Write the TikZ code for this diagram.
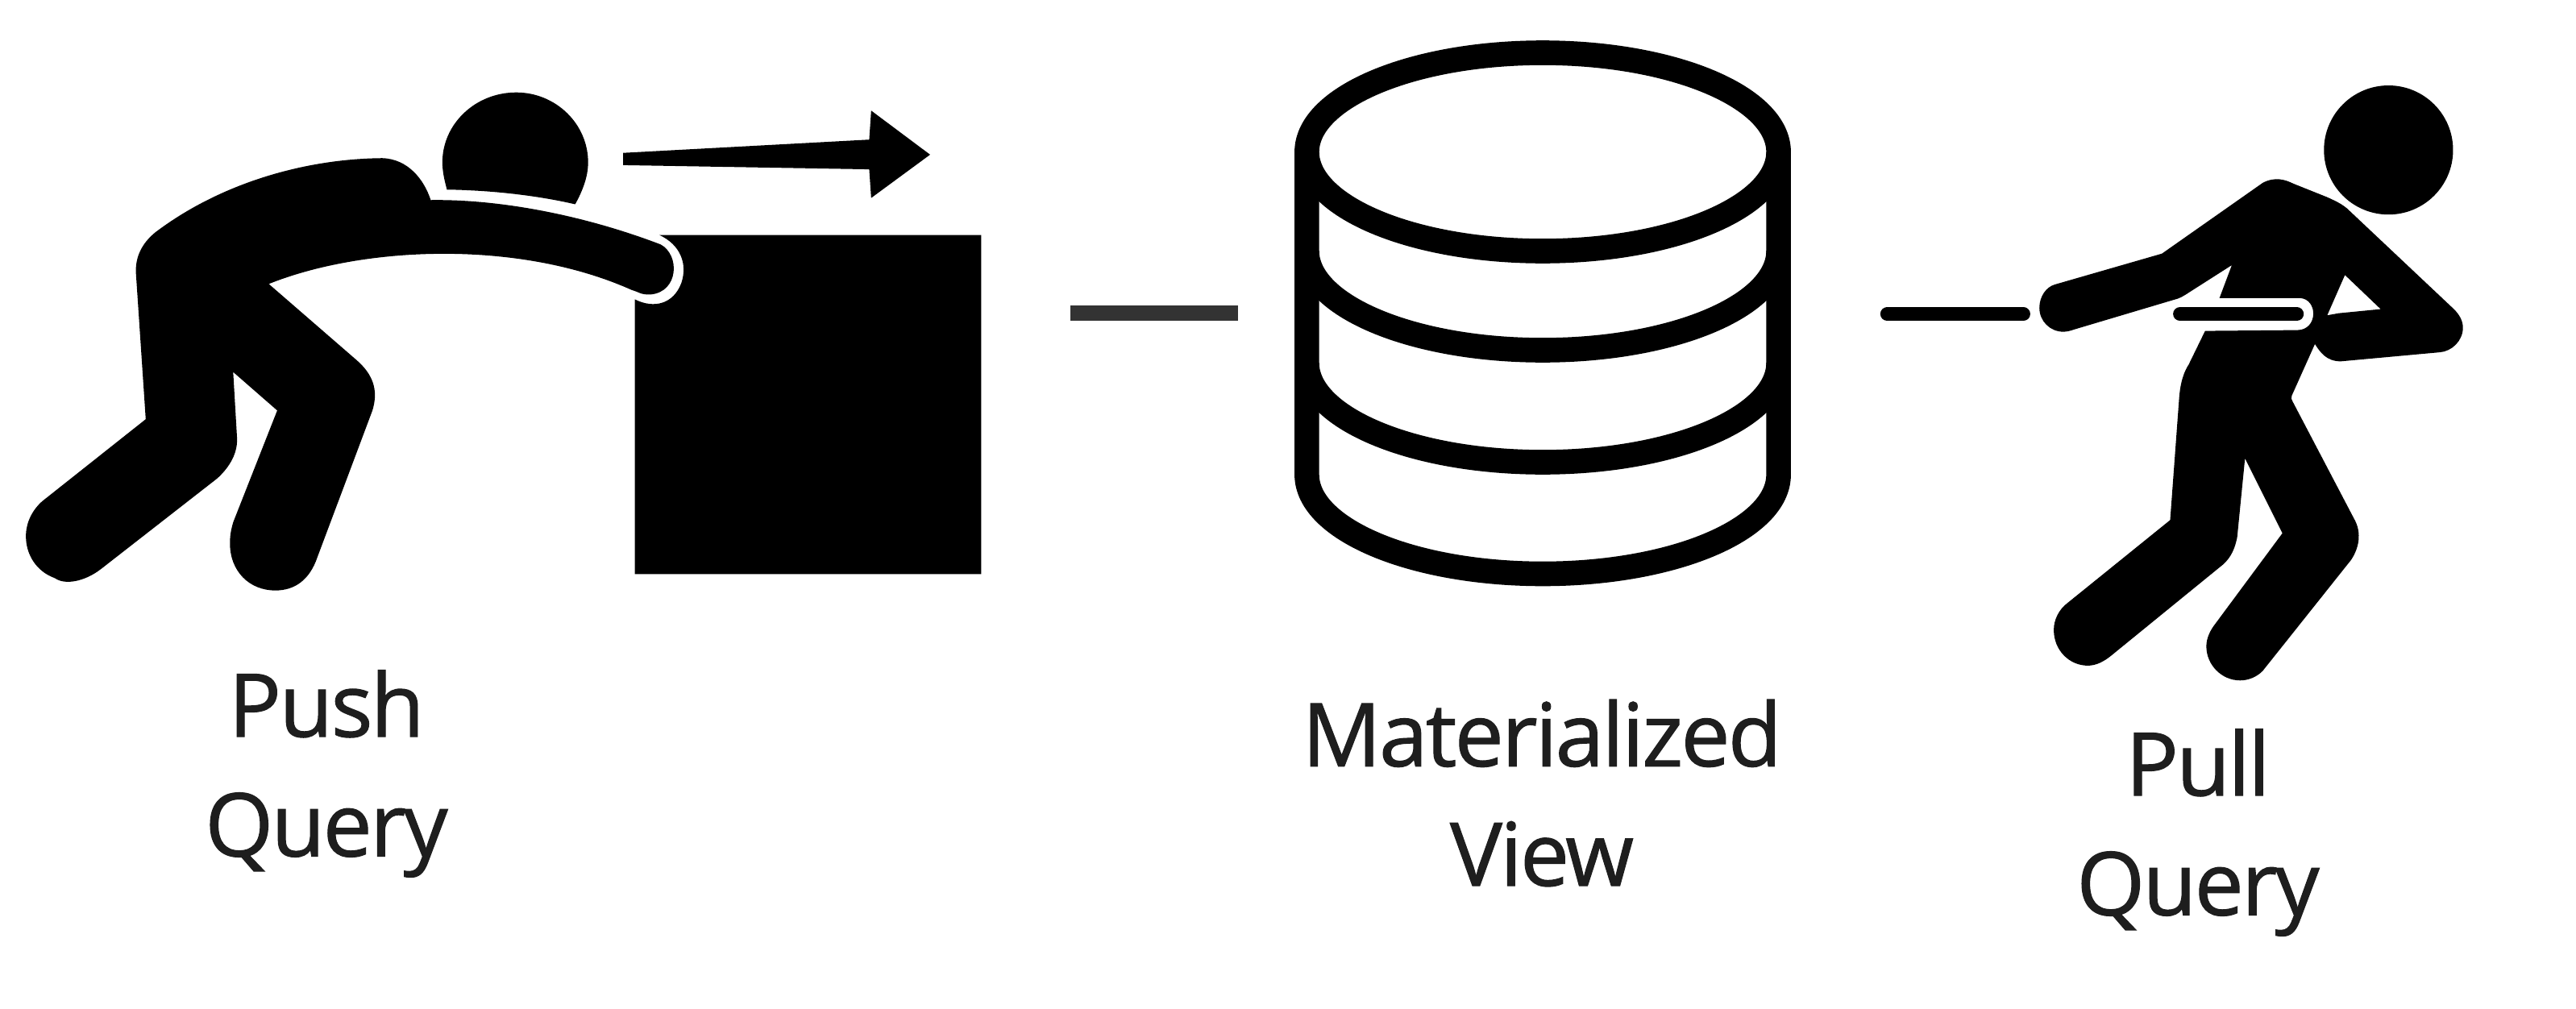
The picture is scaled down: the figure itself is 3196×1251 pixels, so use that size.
\documentclass[tikz,border=0pt]{standalone}
\usepackage{fontspec}
\setmainfont{Open Sans}[LetterSpace=-2.5,FakeBold=1]
\definecolor{barcol}{HTML}{333333}
\definecolor{textcol}{HTML}{1E1E1E}
\tikzset{
  x=0.25mm, y=-0.25mm,
  ink/.style={fill=black, draw=none},
  dbline/.style={draw=black, line width=7.65mm, fill=none},
  rope/.style={draw=black, line width=4.3mm, line cap=round},
  caption/.style={align=center, text=textcol, font=\fontsize{77.5}{105.5}\selectfont, inner sep=0pt}
}
\begin{document}
\begin{tikzpicture}
\useasboundingbox (0,0) rectangle (3196,1251);
\fill[white] (0,0) rectangle (3196,1251);
% Push figure
\begin{scope}[shift={(0,80)},x=0.2009mm,y=-0.10842mm]
\fill[ink] (1018,488) -- (1515,488) -- (1515,1458) -- (980,1458) -- (980,672) .. controls (1010,700) and (1040,685) .. (1052,625) .. controls (1062,570) and (1050,515) .. (1018,488) -- cycle;
\fill[ink] (690,358) .. controls (686,330) and (683,305) .. (683,280) .. controls (683,170) and (734,80) .. (797,80) .. controls (858,80) and (908,170) .. (908,280) .. controls (908,320) and (900,360) .. (888,400) .. controls (830,375) and (760,360) .. (690,358) -- cycle;
\fill[ink] (962,253) -- (1342,215) -- (1345,132) -- (1436,258) -- (1345,382) -- (1342,300) -- (962,288) -- cycle;
\fill[ink] (665,388) .. controls (770,385) and (900,430) .. (1020,515)
  .. controls (1050,545) and (1048,650) .. (1005,658)
  .. controls (990,660) and (985,650) .. (975,645)
  .. controls (800,500) and (560,520) .. (415,628)
  -- (550,845) .. controls (575,885) and (585,930) .. (575,990)
  -- (490,1410) .. controls (478,1475) and (455,1505) .. (425,1505)
  .. controls (385,1505) and (355,1450) .. (355,1370)
  .. controls (355,1345) and (357,1330) .. (360,1310)
  -- (428,990) -- (360,880) -- (366,1070)
  .. controls (367,1120) and (350,1160) .. (335,1185)
  -- (155,1445) .. controls (130,1480) and (100,1490) .. (85,1470)
  .. controls (55,1450) and (40,1400) .. (40,1350)
  .. controls (40,1310) and (50,1275) .. (65,1250)
  -- (225,1015) -- (210,600)
  .. controls (208,550) and (220,510) .. (240,480)
  .. controls (340,340) and (470,270) .. (590,268)
  .. controls (630,270) and (655,330) .. (665,388) -- cycle;
\end{scope}
% separator
\fill[barcol] (1327.5,378.5) rectangle (1535.5,398);
% Database
\draw[dbline] (1914,188.5) ellipse [x radius=292.6, y radius=123];
\draw[dbline] (1621.4,188.5) -- (1621.4,589) arc[start angle=180, end angle=0, x radius=292.6, y radius=123] -- (2206.6,188.5);
\draw[dbline] (1621.4,311.5) arc[start angle=180, end angle=0, x radius=292.6, y radius=123];
\draw[dbline] (1621.4,450.5) arc[start angle=180, end angle=0, x radius=292.6, y radius=123];
% Pull figure
\begin{scope}[shift={(2320,80)},x=0.12755mm,y=-0.12755mm]
\fill[ink] (1261,208) circle [radius=157];
\draw[rope] (42,607) -- (373,607);
\draw[rope] (754,607) -- (1038,607);
\fill[ink, even odd rule] (450,535) -- (710,460) -- (955,288)
  .. controls (985,272) and (1010,280) .. (1030,290) -- (1110,322)
  .. controls (1140,335) and (1150,342) .. (1160,350) -- (1420,595)
  .. controls (1435,610) and (1442,625) .. (1442,640)
  .. controls (1442,672) and (1415,698) .. (1385,700) -- (1145,722)
  .. controls (1110,722) and (1095,700) .. (1082,680) -- (1026,805)
  .. controls (1024,810) and (1024,815) .. (1028,820) -- (1180,1110)
  .. controls (1195,1140) and (1190,1175) .. (1170,1205) -- (955,1475)
  .. controls (940,1490) and (920,1498) .. (900,1498)
  .. controls (855,1498) and (818,1460) .. (818,1415)
  .. controls (818,1395) and (828,1375) .. (840,1360) -- (1003,1140) -- (912,958) -- (893,1150)
  .. controls (885,1190) and (870,1205) .. (860,1215) -- (590,1435)
  .. controls (570,1452) and (550,1462) .. (530,1462)
  .. controls (485,1462) and (447,1425) .. (447,1375)
  .. controls (447,1350) and (460,1325) .. (480,1310) -- (730,1108) -- (752,810)
  .. controls (755,770) and (765,745) .. (775,730) -- (815,648) -- (1040,646)
  .. controls (1090,645) and (1090,570) .. (1045,568) -- (850,568) -- (880,488) -- (775,555)
  .. controls (760,565) and (750,570) .. (740,572) -- (495,645)
  .. controls (487,648) and (478,650) .. (470,650)
  .. controls (438,650) and (412,624) .. (412,592)
  .. controls (412,565) and (428,541) .. (450,535) -- cycle
  (1155,512) -- (1242,595) -- (1140,605) -- (1112,610) -- cycle;
\end{scope}
% Labels
\node[caption] (push) at (405,960) {Push\\Query};
\node[caption] (mat) at (1913,984) {Materialized\\View};
\node[caption] (pull) at (2727,1033) {Pull\\Query};
\end{tikzpicture}
\end{document}
